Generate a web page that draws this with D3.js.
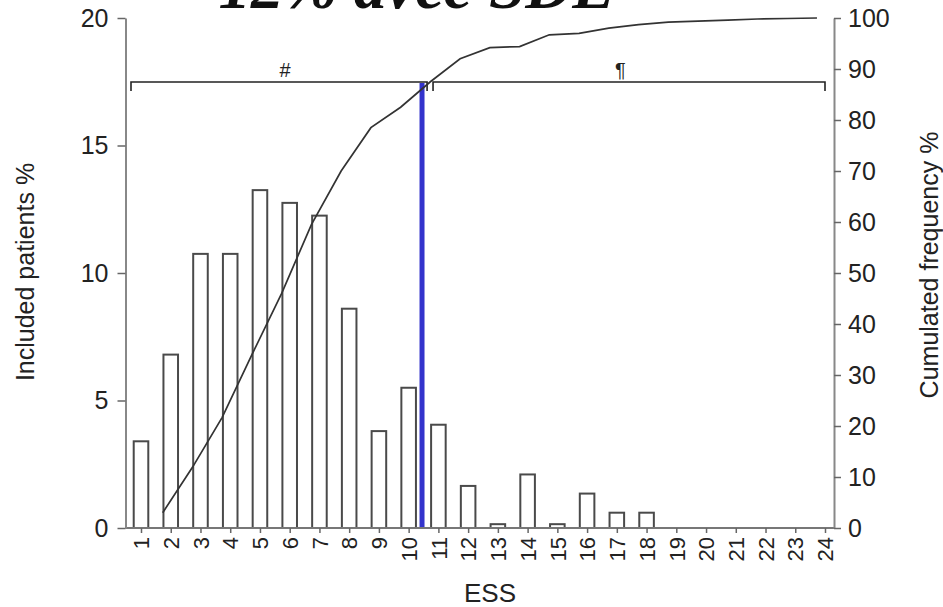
<!DOCTYPE html>
<html>
<head>
<meta charset="utf-8">
<script src="https://cdn.jsdelivr.net/npm/d3@7"></script>
<style>
  body { margin: 0; background: #fff; }
  svg { display: block; }
</style>
</head>
<body>
<svg id="chart"></svg>
<script>
// ESS score categories (x axis)
var essScores = [1, 2, 3, 4, 5, 6, 7, 8, 9, 10, 11, 12, 13, 14, 15, 16, 17, 18, 19, 20, 21, 22, 23, 24];
// included patients % per ESS score (bars, left axis)
var includedPatients = [3.4, 6.8, 10.75, 10.75, 13.25, 12.75, 12.25, 8.6, 3.8, 5.5, 4.05, 1.65, 0.15, 2.1, 0.15, 1.35, 0.6, 0.6, 0, 0, 0, 0, 0, 0];
// cumulated frequency % after ESS 1..23 (line, right axis)
var cumulatedScores = [1, 2, 3, 4, 5, 6, 7, 8, 9, 10, 11, 12, 13, 14, 15, 16, 17, 18, 19, 20, 21, 22, 23];
var cumulatedFrequency = [3, 11.9, 21.7, 34, 46, 59.5, 70, 78.5, 82.5, 87.5, 92, 94.2, 94.4, 96.7, 97, 98, 98.7, 99.2, 99.4, 99.6, 99.8, 99.9, 100];
var leftTicks = [0, 5, 10, 15, 20];
var rightTicks = [0, 10, 20, 30, 40, 50, 60, 70, 80, 90, 100];
var bracketLabels = ["#", "\u00B6"];
var cutoffScore = 10;
var titleText = "12% avec SDE";

var width = 943, height = 607;
var sans = "'Liberation Sans', Arial, Helvetica, sans-serif";

var svg = d3.select("#chart")
            .attr("width", width)
            .attr("height", height);

svg.append("rect").attr("width", width).attr("height", height).attr("fill", "#fff");

var x = d3.scalePoint().domain(essScores).range([141, 825]);
var step = x.step();
var yLeft = d3.scaleLinear().domain([0, 20]).range([528, 18]);
var yRight = d3.scaleLinear().domain([0, 100]).range([528, 18]);
var leftX = 125.5, rightX = 834;

// title, mostly cut off at the top
svg.append("text")
   .attr("x", 417).attr("y", 8)
   .attr("text-anchor", "middle")
   .attr("font-family", "'Liberation Serif', 'Times New Roman', serif")
   .attr("font-weight", "bold").attr("font-style", "italic")
   .attr("font-size", 65).attr("fill", "#111")
   .text(titleText);

// bars
var barW = step * 0.49;
svg.selectAll("rect.bar")
   .data(essScores.filter(function(d, i) { return includedPatients[i] > 0; }))
   .enter().append("rect")
   .attr("class", "bar")
   .attr("x", function(d) { return x(d) - barW / 2; })
   .attr("width", barW)
   .attr("y", function(d) { return yLeft(includedPatients[d - 1]); })
   .attr("height", function(d) { return yLeft(0) - yLeft(includedPatients[d - 1]); })
   .attr("fill", "#fff")
   .attr("stroke", "#4a4a4a")
   .attr("stroke-width", 2);

// cutoff line
var cutX = x(cutoffScore) + step / 2 - 1.5;
svg.append("line")
   .attr("x1", cutX).attr("x2", cutX)
   .attr("y1", 83).attr("y2", yLeft(0))
   .attr("stroke", "#3333cc").attr("stroke-width", 5);

// brackets
var bracketY = 82, bracketDrop = 9;
var brackets = [
  { x0: x(1) - 10, x1: x(cutoffScore) + step * 0.62, lx: x(5) + 25, label: bracketLabels[0] },
  { x0: x(cutoffScore + 1) - step * 0.18, x1: x(24), lx: x(17) + 3.5, label: bracketLabels[1] }
];
brackets.forEach(function(b) {
  svg.append("path")
     .attr("d", "M" + b.x0 + "," + (bracketY + bracketDrop) + "V" + bracketY + "H" + b.x1 + "V" + (bracketY + bracketDrop))
     .attr("fill", "none").attr("stroke", "#222").attr("stroke-width", 1.6);
  svg.append("text")
     .attr("x", b.lx).attr("y", 77)
     .attr("text-anchor", "middle")
     .attr("font-family", sans).attr("font-size", 20).attr("fill", "#222")
     .text(b.label);
});

// cumulated frequency line
var line = d3.line()
             .x(function(d) { return x(d) + step * 0.73; })
             .y(function(d, i) { return yRight(cumulatedFrequency[i]); });
svg.append("path")
   .datum(cumulatedScores)
   .attr("d", line)
   .attr("fill", "none").attr("stroke", "#333").attr("stroke-width", 1.7);

// axes
svg.append("line")
   .attr("x1", leftX).attr("x2", rightX)
   .attr("y1", yLeft(0)).attr("y2", yLeft(0))
   .attr("stroke", "#777").attr("stroke-width", 2);

var gLeft = svg.append("g")
   .attr("transform", "translate(" + leftX + ",0)")
   .call(d3.axisLeft(yLeft).tickValues(leftTicks).tickSize(8).tickSizeOuter(0).tickPadding(9));
var gRight = svg.append("g")
   .attr("transform", "translate(" + rightX + ",0)")
   .call(d3.axisRight(yRight).tickValues(rightTicks).tickSize(7).tickSizeOuter(0).tickPadding(7));
var gBottom = svg.append("g")
   .attr("transform", "translate(0," + yLeft(0) + ")")
   .call(d3.axisBottom(x).tickSize(5).tickSizeOuter(0));
gBottom.select(".domain").remove();

[gLeft, gRight].forEach(function(g) {
  g.attr("font-family", sans).attr("font-size", 25).attr("color", "#222");
  g.select(".domain").attr("stroke", "#888").attr("stroke-width", 2);
  g.selectAll(".tick line").attr("stroke", "#666").attr("stroke-width", 1.5);
});
gBottom.attr("font-family", sans).attr("font-size", 22).attr("color", "#222");
gBottom.selectAll(".tick line").attr("stroke", "#666").attr("stroke-width", 1.5);
gBottom.selectAll(".tick text")
       .attr("transform", "rotate(-90)")
       .attr("x", -9).attr("y", 0).attr("dy", "0.35em")
       .attr("text-anchor", "end");

// axis titles
svg.append("text")
   .attr("x", 490).attr("y", 602)
   .attr("text-anchor", "middle")
   .attr("font-family", sans).attr("font-size", 26).attr("fill", "#222")
   .text("ESS");
svg.append("text")
   .attr("transform", "translate(34,272) rotate(-90)")
   .attr("text-anchor", "middle")
   .attr("font-family", sans).attr("font-size", 25).attr("fill", "#222")
   .text("Included patients %");
svg.append("text")
   .attr("transform", "translate(938,265) rotate(-90)")
   .attr("text-anchor", "middle")
   .attr("font-family", sans).attr("font-size", 25).attr("fill", "#222")
   .text("Cumulated frequency %");
</script>
</body>
</html>
